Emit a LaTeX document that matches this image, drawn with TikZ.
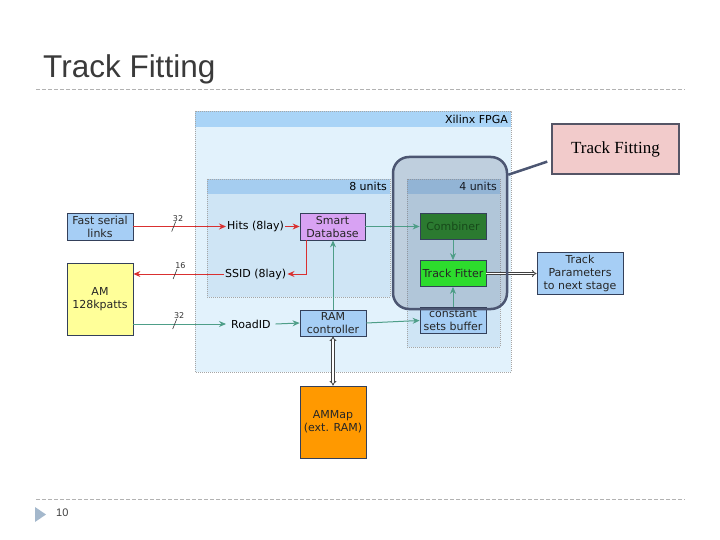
\documentclass[tikz,border=0pt]{standalone}
\usepackage{fontspec}
\setmainfont{DejaVu Sans}
\newfontfamily\titlefont{Liberation Sans}
\newfontfamily\callfont{Liberation Serif}
\usetikzlibrary{arrows.meta,calc}
\definecolor{boxline}{HTML}{34405A}
\definecolor{lblue}{HTML}{A6CEF5}
\definecolor{amyellow}{HTML}{FFFF99}
\definecolor{sdviolet}{HTML}{D8A2F3}
\definecolor{cgreen}{HTML}{2B7A30}
\definecolor{cgreentext}{HTML}{174A1A}
\definecolor{fgreen}{HTML}{2DDC2D}
\definecolor{amorange}{HTML}{FF9900}
\definecolor{fpgahead}{HTML}{A9D4F7}
\definecolor{fpgabody}{HTML}{E2F2FC}
\definecolor{unithead}{HTML}{A5CDF0}
\definecolor{unitbody}{HTML}{CFE5F5}
\definecolor{hlframe}{HTML}{4C5672}
\definecolor{hlfill}{HTML}{5A6A88}
\definecolor{sigred}{HTML}{D93030}
\definecolor{sigteal}{HTML}{4E9E88}
\definecolor{callpink}{HTML}{F2CBCB}
\definecolor{callborder}{HTML}{555566}
\definecolor{titlegray}{HTML}{3A3A3A}
\definecolor{trigray}{HTML}{A4B8CC}

\begin{document}
\begin{tikzpicture}[x=1pt,y=-1pt,
    blk/.style={draw=boxline,line width=.8pt,minimum width=66pt,minimum height=26pt,
      inner sep=0pt,align=center,text=black!85,font=\fontsize{11}{13}\selectfont},
    lbl/.style={inner sep=1pt,font=\fontsize{11}{13}\selectfont},
    redarr/.style={draw=sigred,line width=1pt,-{Stealth[length=7pt,width=6pt]}},
    tealarr/.style={draw=sigteal,line width=1pt,-{Stealth[length=7pt,width=6pt]}},
    bus/.style={draw=black!75,line width=.8pt,double=white,double distance=1.5pt},
    bustip/.tip={Implies[scale=1.8]},
    buswidth/.style={inner sep=0pt,font=\fontsize{8}{8}\selectfont},
    rule/.style={draw=gray!60,line width=.8pt,dash pattern=on 4pt off 2pt},
    frame/.style={draw=gray!70,line width=.7pt,dash pattern=on .8pt off 1.2pt}]
  \useasboundingbox (0,0) rectangle (720,540);

  \node[anchor=base west,inner sep=0pt,text=titlegray,font=\titlefont\fontsize{31.5}{31.5}\selectfont] (title) at (43,78) {Track Fitting};
  \draw[rule] (36,89) -- (685,89);
  \draw[rule] (36,499) -- (685,499);
  \fill[trigray] (35,507) -- (46,514.5) -- (35,522) -- cycle;
  \node[anchor=west,inner sep=0pt,text=black!75,font=\titlefont\fontsize{11}{11}\selectfont] (pgnum) at (56,513) {10};

  \begin{scope}
    \fill[fpgabody] (195,111) rectangle (511,372);
    \fill[fpgahead] (195,111) rectangle (511,127);
    \draw[frame] (195,111) rectangle (511,372);
    \node[lbl,anchor=east] (fpga) at (509,119) {Xilinx FPGA};
    \fill[unitbody] (207,179) rectangle (390,297);
    \fill[unithead] (207,179) rectangle (390,194);
    \draw[frame] (207,179) rectangle (390,297);
    \node[lbl,anchor=east] (eight) at (388,186.5) {8 units};
    \fill[unitbody] (407,179) rectangle (500,347);
    \fill[unithead] (407,179) rectangle (500,194);
    \draw[frame] (407,179) rectangle (500,347);
    \node[lbl,anchor=east] (four) at (498,186.5) {4 units};
    \fill[hlfill,opacity=.25,rounded corners=16pt] (393,157) rectangle (507,309);
  \end{scope}

  \node[blk,fill=lblue,minimum height=27pt] (fsl) at (100,226.5) {Fast serial\\links};
  \node[blk,fill=amyellow,minimum height=72pt] (am) at (100,299) {AM\\128kpatts};
  \node[blk,fill=sdviolet,minimum width=65pt,minimum height=27pt] (sdb) at (332.5,226.5) {Smart\\Database};
  \node[blk,fill=lblue] (ram) at (333,323) {RAM\\controller};
  \node[blk,fill=cgreen,text=cgreentext] (comb) at (453,226.5) {Combiner};
  \node[blk,fill=fgreen] (fit) at (453,273.5) {Track Fitter};
  \node[blk,fill=lblue] (csb) at (453,320.5) {constant\\sets buffer};
  \node[blk,fill=lblue,minimum width=86pt,minimum height=42pt] (tpar) at (580,273.5) {Track\\Parameters\\to next stage};
  \node[blk,fill=amorange,minimum height=72pt] (amm) at (333,422) {AMMap\\(ext. RAM)};

  \node[lbl,anchor=west] (hits) at (226,226.5) {Hits (8lay)};
  \node[lbl,anchor=west] (ssid) at (224,274) {SSID (8lay)};
  \node[lbl,anchor=west,inner xsep=5pt] (road) at (226,324) {RoadID};

  \draw[redarr] (fsl.east) -- (hits.west) coordinate[pos=.435] (s1);
  \draw[redarr] (hits.east) -- (sdb.west);
  \draw[redarr] ([xshift=-26pt]sdb.south) |- (ssid.east);
  \draw[redarr] (ssid.west) -- (ssid.west -| am.east) coordinate[pos=.54] (s2);
  \draw[tealarr] (road.west -| am.east) -- (road.west) coordinate[pos=.446] (s3);
  \draw[tealarr] (road.east) -- (ram.west);
  \draw[tealarr] (ram.north) -- (ram.north |- sdb.south);
  \draw[tealarr] (sdb.east) -- (comb.west);
  \draw[tealarr] (ram.east) -- (csb.west);
  \draw[tealarr,line width=.8pt] (comb.south) -- (fit.north);
  \draw[tealarr,line width=.8pt] (csb.north) -- (fit.south);
  \draw[bus,-bustip] (fit.east) -- (tpar.west);
  \draw[bus,bustip-bustip] (ram.south) -- (amm.north);

  \draw[black!80,line width=.6pt] ($(s1)+(-2,5)$) -- ($(s1)+(2,-5)$) node[buswidth,anchor=south west,xshift=-3pt] {32};
  \draw[black!80,line width=.6pt] ($(s2)+(-2,5)$) -- ($(s2)+(2,-5)$) node[buswidth,anchor=south west,xshift=-2pt] {16};
  \draw[black!80,line width=.6pt] ($(s3)+(-2,5)$) -- ($(s3)+(2,-5)$) node[buswidth,anchor=south west,xshift=-3pt] {32};

  \node[draw=hlframe,line width=2.5pt,rounded corners=16pt,
    minimum width=114pt,minimum height=152pt] (tfbox) at (450,233) {};
  \node[draw=callborder,line width=2pt,fill=callpink,minimum width=127pt,minimum height=50pt,
    font=\callfont\fontsize{17}{17}\selectfont] (call) at (615.5,149) {Track Fitting};
  \draw[hlframe,line width=2.5pt,shorten >=4pt] (tfbox.45) -- (call.190);
\end{tikzpicture}
\end{document}
